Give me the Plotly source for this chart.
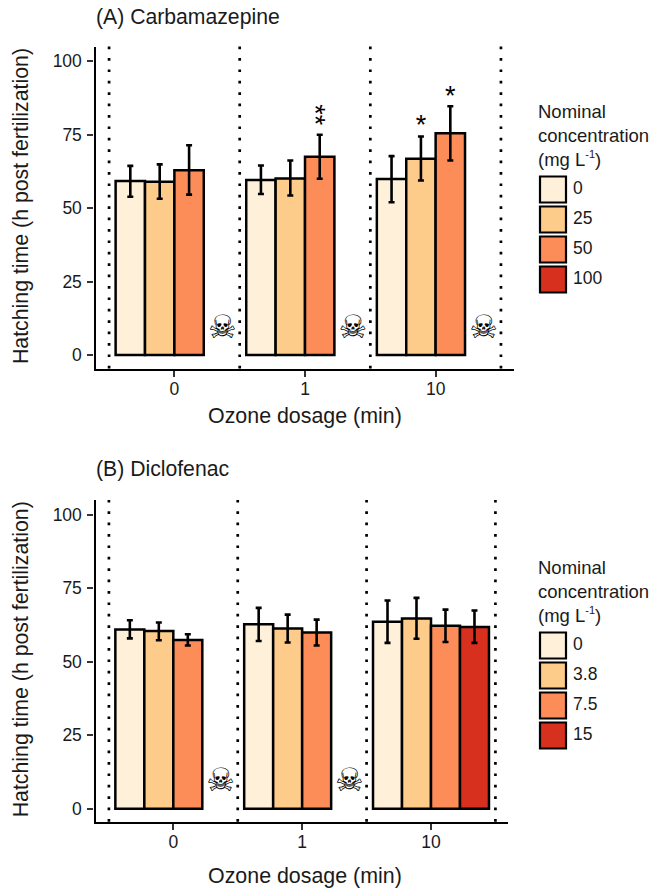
import plotly.graph_objects as go

W, H = 655, 890
FONT = "Liberation Sans, Arial, sans-serif"
INK = "#1a1a1a"

# ---- data -----------------------------------------------------------------
ozone_labels = ["0", "1", "10"]
group_pos = [0, 1, 2]
colors = ["#FEF0D9", "#FDCC8A", "#FC8D59", "#D7301F"]

# Panel A, one list per concentration, one value per ozone dosage
a_conc = ["0", "25", "50", "100"]
a_mean = [[59.2, 59.6, 59.9], [59.0, 60.1, 66.8], [62.9, 67.5, 75.5], [None, None, None]]
a_upper = [[64.4, 64.5, 67.7], [64.9, 66.2, 74.4], [71.4, 75.0, 84.7], [None, None, None]]
a_lower = [[53.9, 54.8, 52.0], [53.2, 54.3, 59.4], [54.6, 60.0, 66.2], [None, None, None]]
a_skull_group = [0, 1, 2]
a_star_group = [2, 2]
a_star_series = [1, 2]
a_star_value = [77.7, 87.5]
a_double_group = [1]
a_double_series = [2]
a_double_value = [81.7]

# Panel B
b_conc = ["0", "3.8", "7.5", "15"]
b_mean = [[60.9, 62.7, 63.6], [60.4, 61.3, 64.7], [57.4, 59.9, 62.2], [None, None, 61.8]]
b_upper = [[64.1, 68.3, 70.8], [63.3, 66.0, 71.7], [59.3, 64.3, 67.7], [None, None, 67.4]]
b_lower = [[57.9, 57.0, 56.4], [57.3, 56.5, 57.8], [55.5, 55.5, 56.7], [None, None, 56.4]]
b_skull_group = [0, 1]
b_star_group = []
b_star_series = []
b_star_value = []
b_double_group = []
b_double_series = []
b_double_value = []

skull_value = 8.6
y_ticks = [0, 25, 50, 75, 100]
separators = [-0.5, 0.5, 1.5, 2.5]
BAR_W = 0.225
SKULL_OFFSET = 0.367


def px_x(p):
    return p / W


def px_y(p):
    return 1 - p / H


def suffix(i):
    return "" if i == 1 else str(i)


fig = go.Figure()
layout = dict(
    width=W, height=H, autosize=False,
    margin=dict(l=0, r=0, t=0, b=0),
    paper_bgcolor="white", plot_bgcolor="white",
    barmode="group", bargap=0.1, bargroupgap=0,
    showlegend=False, font=dict(family=FONT, size=18, color=INK),
)
annotations, shapes = [], []


def panel(idx, title, means, uppers, lowers, conc, skulls, sg, ss, sv, dg, ds, dv,
          left, right, top, bottom, ymin, title_y, xt_y, leg_top, leg_title_y):
    xa, ya = "x" + suffix(idx), "y" + suffix(idx)
    xname, yname = "xaxis" + suffix(idx), "yaxis" + suffix(idx)
    for m, u, l, c, name in zip(means, uppers, lowers, colors, conc):
        plus = [None if a is None else round(a - b, 2) for a, b in zip(u, m)]
        minus = [None if a is None else round(b - a, 2) for a, b in zip(l, m)]
        fig.add_trace(go.Bar(
            x=group_pos, y=m, name=name, xaxis=xa, yaxis=ya, width=BAR_W,
            offsetgroup=name + str(idx),
            marker=dict(color=c, line=dict(color="black", width=2.5)),
            error_y=dict(type="data", array=plus, arrayminus=minus, symmetric=False,
                         color="black", thickness=2.6, width=3),
        ))
    fig.add_trace(go.Scatter(
        x=[g + SKULL_OFFSET for g in skulls], y=[skull_value] * len(skulls),
        mode="text", text=["\u2620"] * len(skulls), xaxis=xa, yaxis=ya,
        textposition="middle center", cliponaxis=False,
        textfont=dict(family="DejaVu Sans", size=32, color="black"),
    ))
    if sg:
        fig.add_trace(go.Scatter(
            x=[g + (s - 1.5) * BAR_W for g, s in zip(sg, ss)], y=sv,
            mode="text", text=["*"] * len(sg), xaxis=xa, yaxis=ya,
            textposition="middle center", cliponaxis=False,
            textfont=dict(family=FONT, size=27, color="black"),
        ))
    for g, s, v in zip(dg, ds, dv):
        annotations.append(dict(text="**", xref=xa, yref=ya, x=g + (s - 1.5) * BAR_W, y=v,
                                textangle=90, showarrow=False, xshift=-5,
                                font=dict(family=FONT, size=27, color="black")))
    layout[xname] = dict(
        domain=[px_x(left), px_x(right)], anchor=ya, range=[-0.604, 2.6],
        tickmode="array", tickvals=group_pos, ticktext=ozone_labels,
        ticks="outside", ticklen=6, tickwidth=2, tickcolor="#333333", ticklabelstandoff=-3,
        showline=True, linecolor="black", linewidth=2.3, showgrid=False, zeroline=False,
        tickfont=dict(family=FONT, size=17.5, color=INK), fixedrange=True,
    )
    layout[yname] = dict(
        domain=[px_y(bottom), px_y(top)], anchor=xa, range=[ymin, 105],
        tickmode="array", tickvals=y_ticks,
        ticks="outside", ticklen=6, tickwidth=2, tickcolor="#333333", ticklabelstandoff=2,
        showline=True, linecolor="black", linewidth=2.3, showgrid=False, zeroline=False,
        tickfont=dict(family=FONT, size=17.5, color=INK), fixedrange=True,
    )
    for s in separators:
        shapes.append(dict(type="line", xref=xa, yref=ya + " domain", x0=s, x1=s, y0=0, y1=1,
                           line=dict(color="black", width=2.7, dash="2.7px,8.7px")))
    annotations.append(dict(text=title, xref="paper", yref="paper", x=px_x(94), y=px_y(title_y),
                            xanchor="left", yanchor="middle", showarrow=False,
                            font=dict(family=FONT, size=21.2, color=INK)))
    annotations.append(dict(text="Ozone dosage (min)", xref="paper", yref="paper",
                            x=px_x(304.5), y=px_y(xt_y), xanchor="center", yanchor="middle",
                            showarrow=False, font=dict(family=FONT, size=21.4, color=INK)))
    annotations.append(dict(text="Hatching time (h post fertilization)", xref="paper", yref="paper",
                            x=px_x(20.5), y=px_y((top + bottom) / 2 - 1), xanchor="center",
                            yanchor="middle", textangle=-90, showarrow=False,
                            font=dict(family=FONT, size=21.3, color=INK)))
    annotations.append(dict(
        text="Nominal<br>concentration<br>(mg L<sup><span style='font-size:11px'>-1</span></sup>)",
        xref="paper", yref="paper", x=px_x(536), y=px_y(leg_title_y),
        xanchor="left", yanchor="middle", align="left", showarrow=False,
        font=dict(family=FONT, size=18.5, color=INK)))
    # legend drawn as its own small panel so the keys keep the reference's size
    lx, ly = "x" + suffix(idx + 2), "y" + suffix(idx + 2)
    fig.add_trace(go.Scatter(
        x=[0.5] * 4, y=[0.5, 1.5, 2.5, 3.5], mode="markers",
        xaxis=lx, yaxis=ly, cliponaxis=False,
        marker=dict(symbol="square", size=26, color=colors, line=dict(color="black", width=2.2)),
    ))
    fig.add_trace(go.Scatter(
        x=[1.17] * 4, y=[0.5, 1.5, 2.5, 3.5], mode="text", text=conc,
        xaxis=lx, yaxis=ly, textposition="middle right", cliponaxis=False,
        textfont=dict(family=FONT, size=17.5, color=INK),
    ))
    layout["xaxis" + suffix(idx + 2)] = dict(domain=[px_x(538), px_x(628)], range=[0, 3], visible=False,
                                             anchor=ly, fixedrange=True)
    layout["yaxis" + suffix(idx + 2)] = dict(domain=[px_y(leg_top + 120), px_y(leg_top)], range=[4, 0],
                                             visible=False, anchor=lx, fixedrange=True)


panel(1, "(A) Carbamazepine", a_mean, a_upper, a_lower, a_conc, a_skull_group,
      a_star_group, a_star_series, a_star_value, a_double_group, a_double_series, a_double_value,
      left=95.5, right=514, top=46.6, bottom=368.5, ymin=-4.6,
      title_y=16.5, xt_y=416, leg_top=174.5, leg_title_y=135)
panel(2, "(B) Diclofenac", b_mean, b_upper, b_lower, b_conc, b_skull_group,
      b_star_group, b_star_series, b_star_value, b_double_group, b_double_series, b_double_value,
      left=95.5, right=508.3, top=499.9, bottom=821.7, ymin=-4.42,
      title_y=468.5, xt_y=876, leg_top=630.5, leg_title_y=591)

layout["annotations"] = annotations
layout["shapes"] = shapes
fig.update_layout(**layout)
fig.write_html("out.html", config={"displayModeBar": False},
               post_script="document.body.style.margin='0';window.dispatchEvent(new Event('resize'));")
